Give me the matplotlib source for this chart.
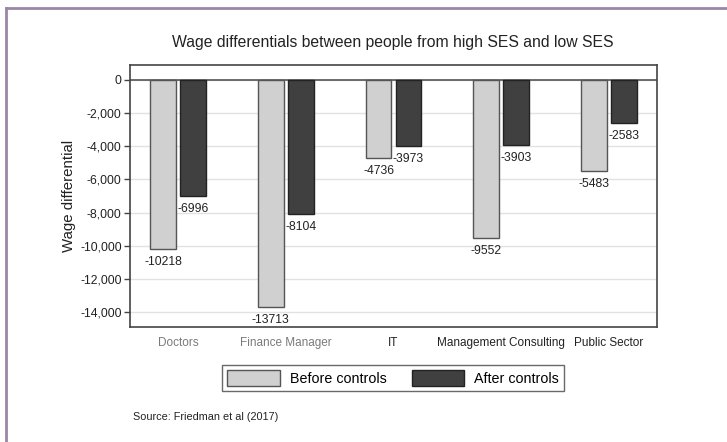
"""Wage differentials between people from high SES and low SES (grouped bars)."""

import matplotlib.pyplot as plt
import numpy as np
from matplotlib.lines import Line2D
from matplotlib.patches import Patch

plt.rcParams["font.family"] = ["Liberation Sans", "DejaVu Sans"]

categories = ["Doctors", "Finance Manager", "IT", "Management Consulting", "Public Sector"]
before_controls = [-10218, -13713, -4736, -9552, -5483]
after_controls = [-6996, -8104, -3973, -3903, -2583]
y_ticks = [0, -2000, -4000, -6000, -8000, -10000, -12000, -14000]
label_colors = ["#7a7a7a", "#7a7a7a", "#222222", "#222222", "#222222"]

W, H = 727, 442
fig = plt.figure(figsize=(W / 100, H / 100), dpi=100)
fig.patch.set_facecolor("white")

# purple frame round the picture (only top and left edges are visible)
frame_color = "#9a86a6"
fig.add_artist(Line2D([6 / W, 1.0], [1 - 8 / H, 1 - 8 / H], color=frame_color, lw=2))
fig.add_artist(Line2D([6 / W, 6 / W], [0.0, 1 - 8 / H], color=frame_color, lw=2))

ax = fig.add_axes([130 / W, 1 - 327 / H, 527 / W, (327 - 65) / H])

x = np.arange(len(categories))
width = 0.24
offset = 0.139

bars_before = ax.bar(x - offset, before_controls, width, color="#d0d0d0",
                     edgecolor="#555555", linewidth=1.0, zorder=3)
bars_after = ax.bar(x + offset, after_controls, width, color="#404040",
                    edgecolor="#222222", linewidth=1.0, zorder=3)

for bars in (bars_before, bars_after):
    for bar in bars:
        val = bar.get_height()
        ax.annotate(f"{val:.0f}", (bar.get_x() + bar.get_width() / 2, val),
                    xytext=(0, -5), textcoords="offset points",
                    ha="center", va="top", fontsize=8.7, color="#222222")

ax.axhline(0, color="#555555", lw=1.2, zorder=2)

ax.set_xlim(-0.445, len(categories) - 1 + 0.445)
ax.set_ylim(-14900, 900)
ax.set_yticks(y_ticks)
ax.set_yticklabels([f"{t:,}" for t in y_ticks], fontsize=8.8, color="#222222")
ax.tick_params(axis="y", length=4, width=1, color="#444444", pad=2)
ax.set_xticks(x)
ax.set_xticklabels(categories, fontsize=8.5)
for lbl, c in zip(ax.get_xticklabels(), label_colors):
    lbl.set_color(c)
ax.tick_params(axis="x", length=0, pad=7)

ax.yaxis.grid(True, color="#e2e2e2", lw=1.0, zorder=0)
ax.set_axisbelow(True)
for spine in ax.spines.values():
    spine.set_color("#444444")
    spine.set_linewidth(1.2)

ax.set_ylabel("Wage differential", fontsize=10.8, color="#222222", labelpad=3)

fig.text(393 / W, 1 - 42 / H, "Wage differentials between people from high SES and low SES",
         ha="center", va="center", fontsize=11.3, color="#222222")

handles = [
    Patch(facecolor="#d0d0d0", edgecolor="#555555", label="Before controls"),
    Patch(facecolor="#404040", edgecolor="#222222", label="After controls"),
]
leg = fig.legend(handles=handles, loc="center", bbox_to_anchor=(393 / W, 1 - 378 / H),
                 ncol=2, fontsize=10.3, frameon=True, fancybox=False,
                 handlelength=3.7, handleheight=1.3, columnspacing=1.75,
                 handletextpad=0.7, borderpad=0.35)
leg.get_frame().set_edgecolor("#444444")
leg.get_frame().set_linewidth(1.0)

fig.text(133 / W, 1 - 417 / H, "Source: Friedman et al (2017)",
         ha="left", va="center", fontsize=7.8, color="#222222")

fig.savefig("out.png", dpi=100)
